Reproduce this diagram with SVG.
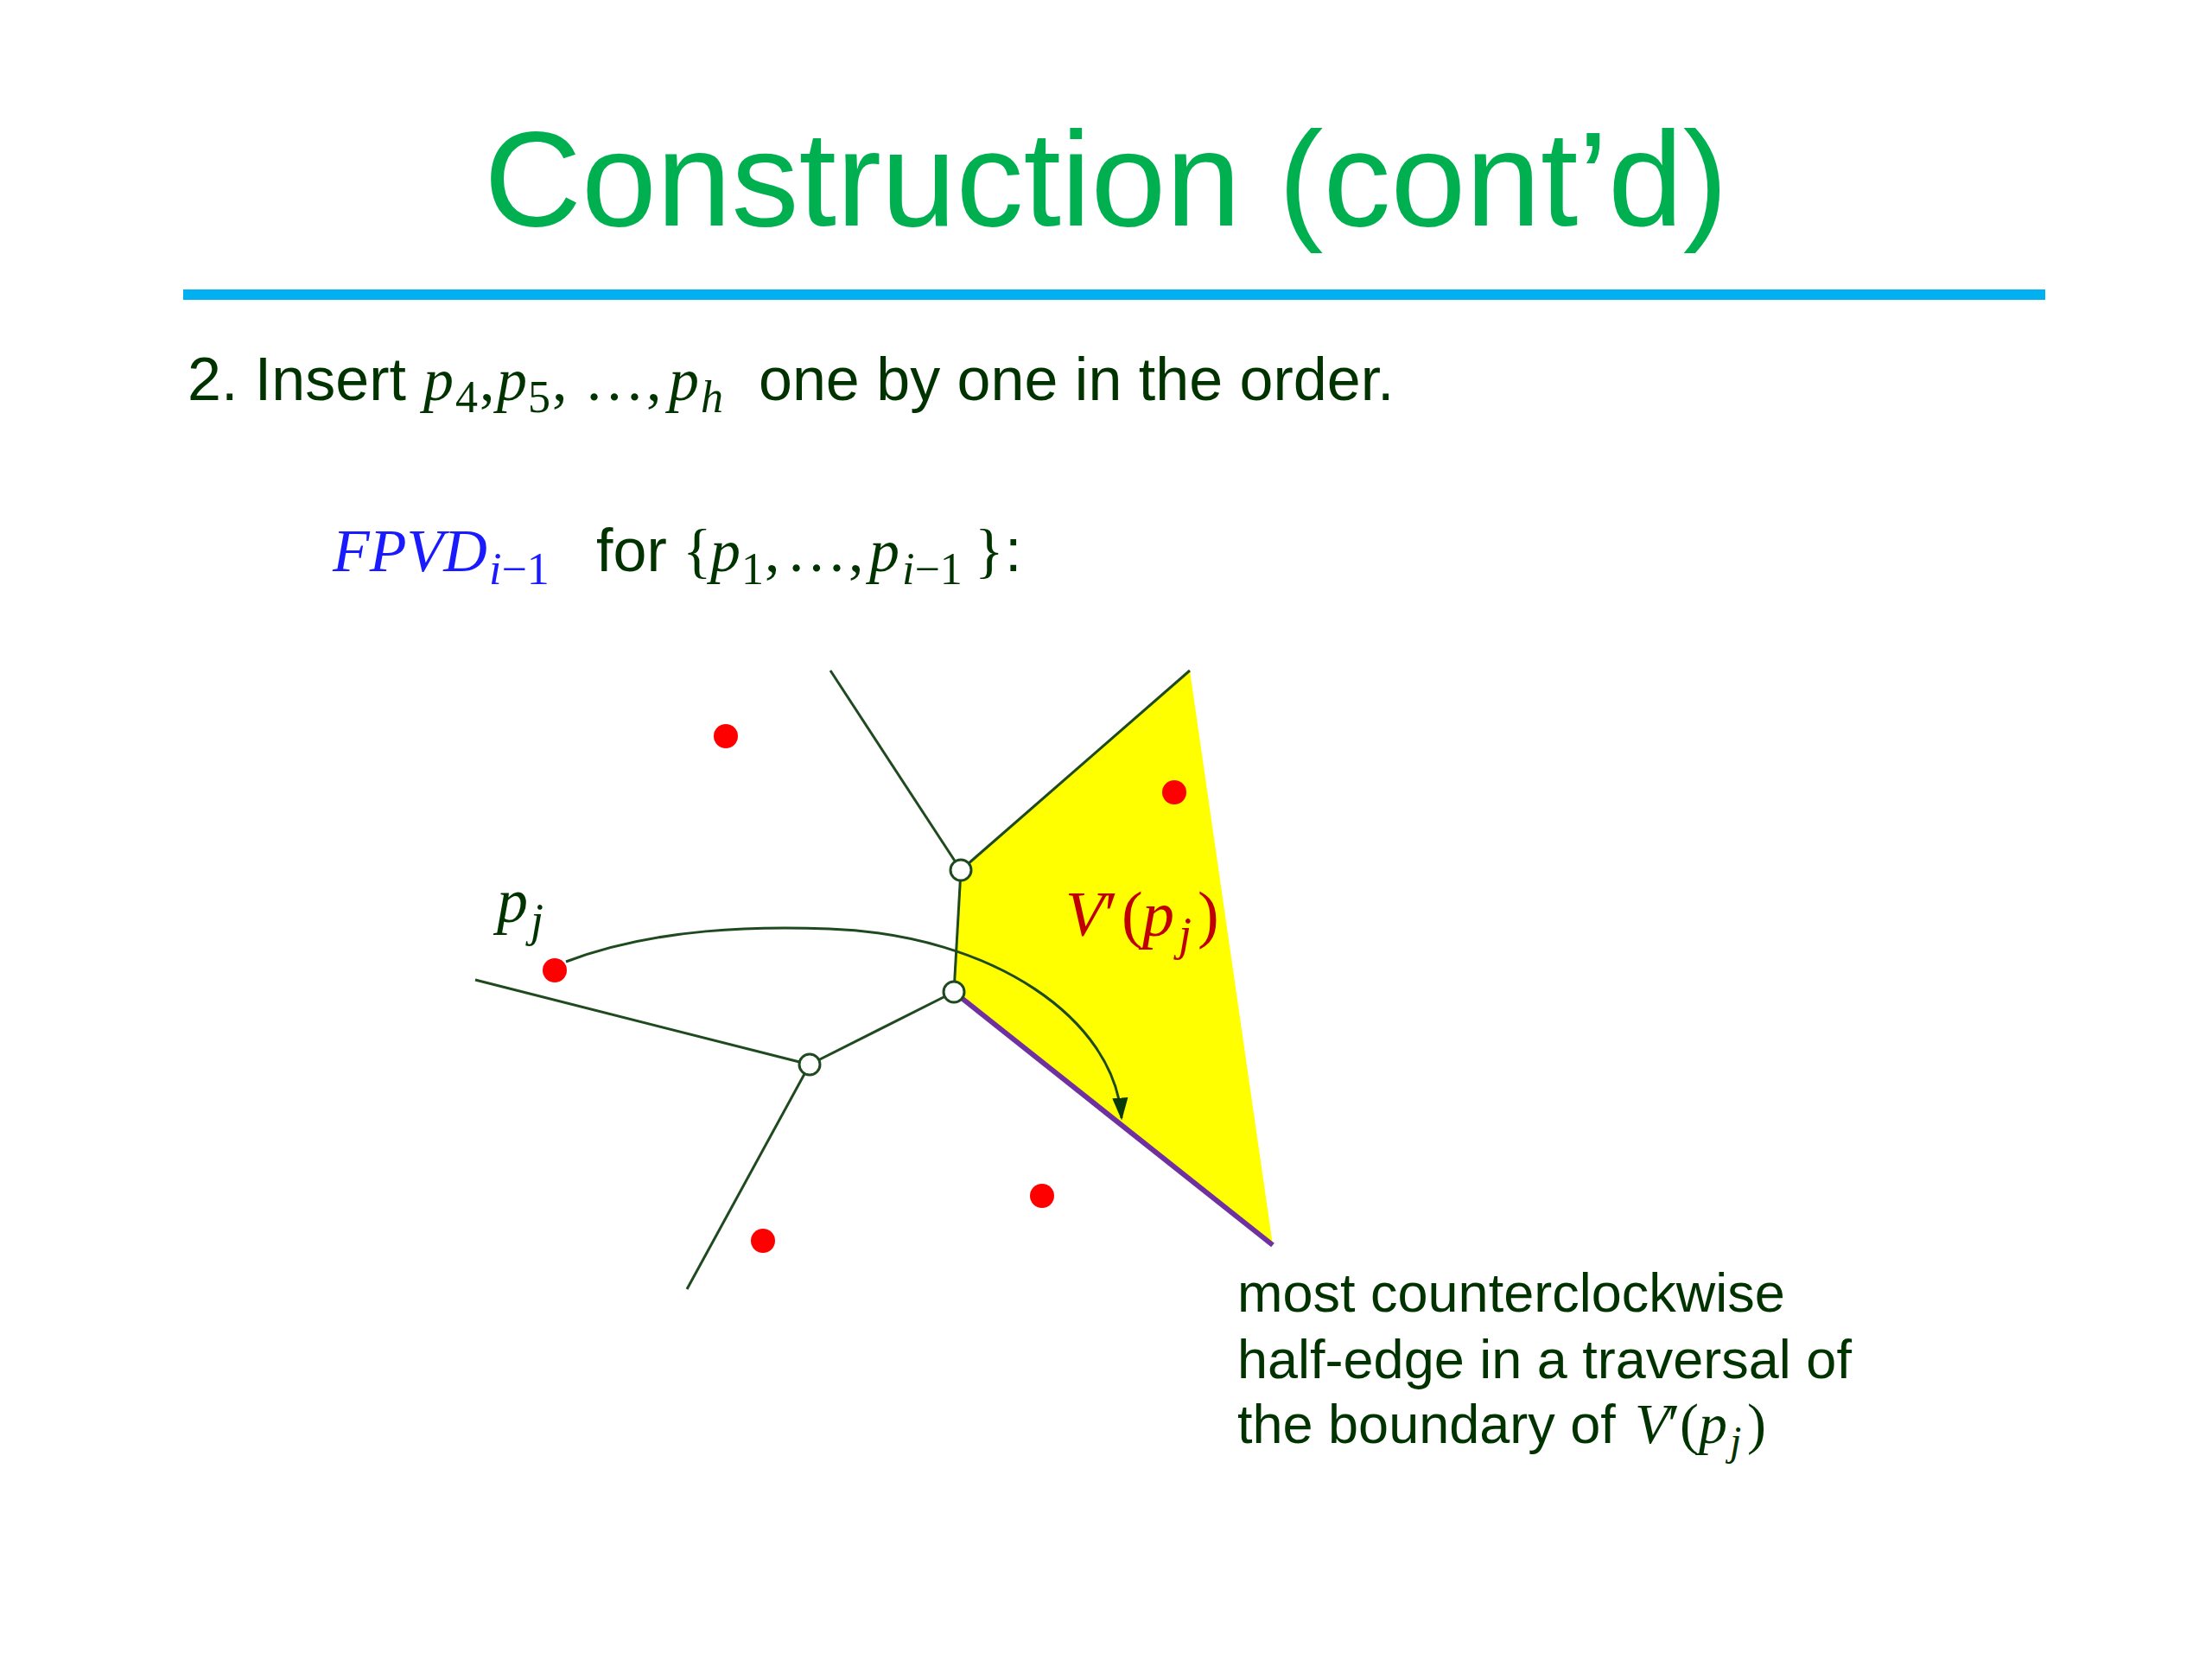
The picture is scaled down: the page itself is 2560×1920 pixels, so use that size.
<svg xmlns="http://www.w3.org/2000/svg" width="2560" height="1920" viewBox="0 0 2560 1920">
<style>
.sans{font-family:"Liberation Sans",Arial,sans-serif}
.m{font-family:"Liberation Serif","DejaVu Serif",serif;font-style:italic}
.u{font-family:"Liberation Serif","DejaVu Serif",serif;font-style:normal}
.dk{fill:#003300}
.edge{stroke:#1f4a1f;stroke-width:3;fill:none}
.site{fill:#ff0000}
.vert{fill:#ffffff;stroke:#1f4a1f;stroke-width:3}
</style>
<defs>
<marker id="arrow" viewBox="0 0 20 20" refX="18" refY="10" markerWidth="26" markerHeight="26" markerUnits="userSpaceOnUse" orient="auto">
<path d="M0,3 L20,10 L0,17 Z" fill="#0a3a0a"/>
</marker>
</defs>
<rect width="2560" height="1920" fill="#ffffff"/>
<g id="title">
<text x="1280" y="261" text-anchor="middle" class="sans" font-size="156" fill="#00b050">Construction (cont’d)</text>
<rect x="212" y="335" width="2155" height="12" fill="#00b0f0"/>
</g>
<g id="step">
<text class="dk" y="463" font-size="70"><tspan class="sans" x="217">2. Insert</tspan><tspan class="m" x="490">p</tspan><tspan class="u" font-size="52" x="527" dy="14">4</tspan><tspan class="u" x="555" dy="-14">,</tspan><tspan class="m" x="575">p</tspan><tspan class="u" font-size="52" x="611" dy="14">5</tspan><tspan class="u" x="639" dy="-14">,</tspan><tspan class="u" x="676">…</tspan><tspan class="u" x="748">,</tspan><tspan class="m" x="774">p</tspan><tspan class="m" font-size="52" x="811" dy="14">h</tspan><tspan class="sans" x="878" dy="-14">one by one in the order.</tspan></text>
</g>
<g id="fpvd">
<text y="661" font-size="70"><tspan class="m" fill="#1a1aff" x="385">FPVD</tspan><tspan class="m" fill="#1a1aff" font-size="52" x="566" dy="15">i</tspan><tspan class="u" fill="#1a1aff" font-size="52">−1</tspan><tspan class="sans dk" x="690" dy="-15">for</tspan><tspan class="u dk" x="790">{</tspan><tspan class="m dk" x="822">p</tspan><tspan class="u dk" font-size="52" x="858" dy="15">1</tspan><tspan class="u dk" x="885" dy="-15">,</tspan><tspan class="u dk" x="910">…</tspan><tspan class="u dk" x="982">,</tspan><tspan class="m dk" x="1006">p</tspan><tspan class="m dk" font-size="52" x="1044" dy="15">i</tspan><tspan class="u dk" font-size="52">−1</tspan><tspan class="u dk" x="1128" dy="-15">}</tspan><tspan class="sans dk" x="1163">:</tspan></text>
</g>
<g id="cell">
<polygon points="1112,1007 1377,776 1473,1441 1104,1148" fill="#ffff00"/>
</g>
<g id="connectors">
<line class="edge" x1="961" y1="776" x2="1112" y2="1007"/>
<line class="edge" x1="1112" y1="1007" x2="1377" y2="776"/>
<line class="edge" x1="1112" y1="1007" x2="1104" y2="1148"/>
<line class="edge" x1="1104" y1="1148" x2="937" y2="1232"/>
<line class="edge" x1="937" y1="1232" x2="550" y2="1134"/>
<line class="edge" x1="937" y1="1232" x2="795" y2="1492"/>
<line x1="1104" y1="1148" x2="1473" y2="1441" stroke="#7030a0" stroke-width="6"/>
<path class="edge" d="M655,1113 C760,1073 880,1072 960,1075 C1150,1082 1290,1180 1298,1294" marker-end="url(#arrow)"/>
</g>
<g id="sites">
<circle class="site" cx="840" cy="852" r="14"/>
<circle class="site" cx="1359" cy="917" r="14"/>
<circle class="site" cx="642" cy="1123" r="14"/>
<circle class="site" cx="1206" cy="1384" r="14"/>
<circle class="site" cx="883" cy="1436" r="14"/>
</g>
<g id="vertices">
<circle class="vert" cx="1112" cy="1007" r="12"/>
<circle class="vert" cx="1104" cy="1148" r="12"/>
<circle class="vert" cx="937" cy="1232" r="12"/>
</g>
<g id="labels">
<text y="1067" font-size="72" class="dk"><tspan class="m" x="575">p</tspan><tspan class="m" font-size="54" x="614" dy="16">j</tspan></text>
<text y="1083" font-size="74" fill="#c00000"><tspan class="m" x="1233">V</tspan><tspan class="u" x="1278">′</tspan><tspan class="u" x="1298">(</tspan><tspan class="m" x="1322">p</tspan><tspan class="m" font-size="54" x="1364" dy="16">j</tspan><tspan class="u" x="1386" dy="-16">)</tspan></text>
</g>
<g id="note">
<text class="sans dk" font-size="63"><tspan x="1432" y="1518">most counterclockwise</tspan><tspan x="1432" y="1595">half-edge in a traversal of</tspan><tspan x="1432" y="1670">the boundary of</tspan></text>
<text y="1670" font-size="66" class="dk"><tspan class="m" x="1892">V</tspan><tspan class="u" x="1930">′</tspan><tspan class="u" x="1944">(</tspan><tspan class="m" x="1966">p</tspan><tspan class="m" font-size="48" x="2002" dy="14">j</tspan><tspan class="u" x="2022" dy="-14">)</tspan></text>
</g>
</svg>
